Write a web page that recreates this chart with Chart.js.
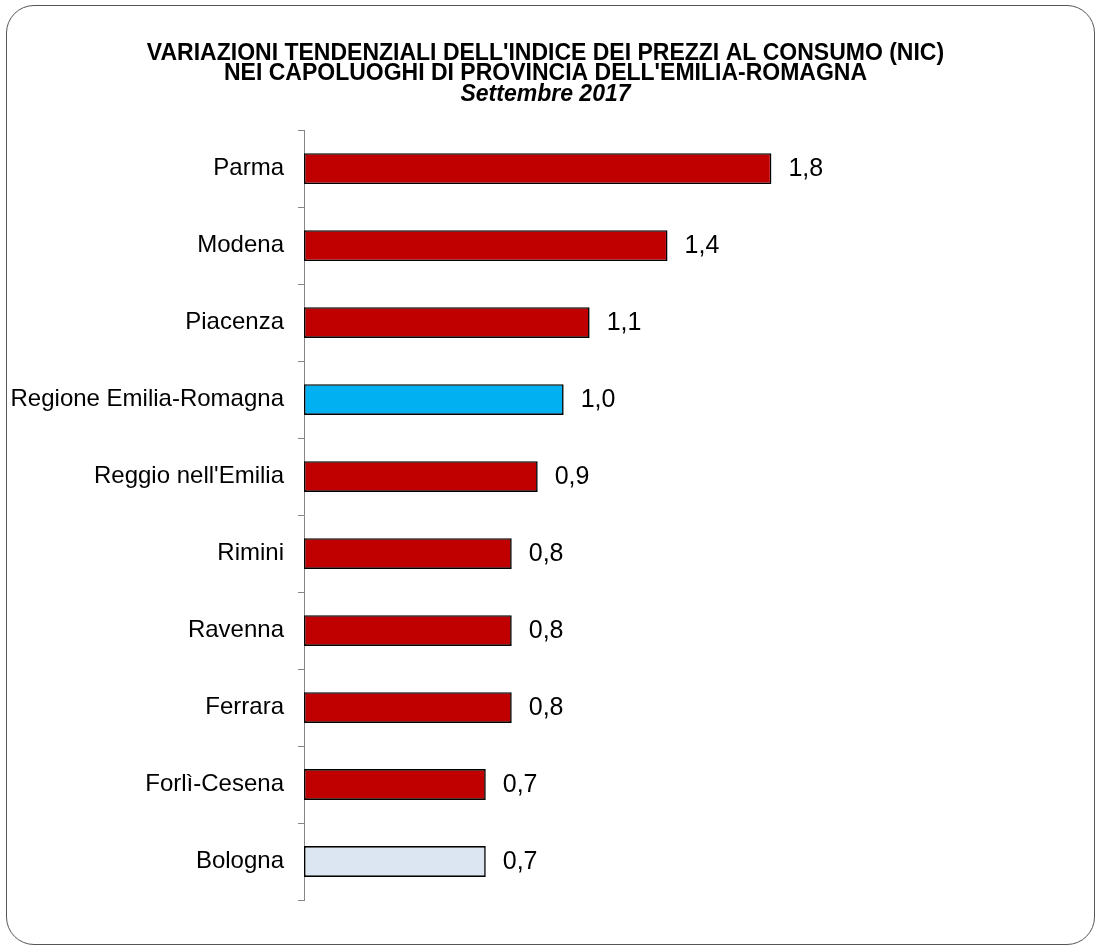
<!DOCTYPE html>
<html>
<head>
<meta charset="utf-8">
<script src="https://cdn.jsdelivr.net/npm/chart.js@4.4.1/dist/chart.umd.min.js"></script>
<style>
    html, body { margin: 0; padding: 0; background: #fff; }
    #wrap { position: relative; width: 1101px; height: 951px; }
    #frame {
        position: absolute; left: 6px; top: 5px; right: 6px; bottom: 6px;
        border: 1.5px solid #555; border-radius: 28px;
    }
    #chart { position: absolute; left: 0; top: 0; }
</style>
</head>
<body>
<div id="wrap">
    <div id="frame"></div>
    <canvas id="chart" width="1101" height="951"></canvas>
</div>
<script>
(function () {
    'use strict';

    var titleLines = [
        "VARIAZIONI TENDENZIALI DELL'INDICE DEI PREZZI AL CONSUMO (NIC)",
        "NEI CAPOLUOGHI DI PROVINCIA DELL'EMILIA-ROMAGNA"
    ];
    var subtitleText = 'Settembre 2017';

    var categories = [
        'Parma', 'Modena', 'Piacenza', 'Regione Emilia-Romagna', "Reggio nell'Emilia",
        'Rimini', 'Ravenna', 'Ferrara', 'Forlì-Cesena', 'Bologna'
    ];
    var values = [1.8, 1.4, 1.1, 1.0, 0.9, 0.8, 0.8, 0.8, 0.7, 0.7];

    var FONT = '"Liberation Sans", Arial, sans-serif';

    // region bar in blue, Bologna in pale blue, the rest in dark red
    function barColor(ctx) {
        var label = categories[ctx.dataIndex];
        if (label === 'Regione Emilia-Romagna') return '#00B0F0';
        if (label === 'Bologna') return '#DCE6F2';
        return '#C00000';
    }

    // =========================================================================
    // Value labels next to the bars
    // =========================================================================

    var valueLabels = {
        id: 'valueLabels',
        afterDatasetsDraw: function (chart) {
            var ctx = chart.ctx;
            var meta = chart.getDatasetMeta(0);
            ctx.save();
            ctx.font = '25px ' + FONT;
            ctx.fillStyle = '#000';
            ctx.textAlign = 'left';
            ctx.textBaseline = 'middle';
            meta.data.forEach(function (bar, i) {
                var txt = values[i].toFixed(1).replace('.', ',');
                ctx.fillText(txt, bar.x + 17, bar.y + 1);
            });
            ctx.restore();
        }
    };

    new Chart(document.getElementById('chart'), {
        type: 'bar',
        data: {
            labels: categories,
            datasets: [{
                data: values,
                backgroundColor: barColor,
                borderColor: '#000',
                borderWidth: 1.6,
                borderSkipped: false,
                categoryPercentage: 1.0,
                barPercentage: 0.4
            }]
        },
        options: {
            indexAxis: 'y',
            responsive: false,
            animation: false,
            devicePixelRatio: 1,
            layout: {
                padding: { left: 8, right: 18, top: 0, bottom: 51 }
            },
            plugins: {
                legend: { display: false },
                tooltip: { enabled: false },
                title: {
                    display: true,
                    text: titleLines,
                    color: '#000',
                    font: { family: FONT, size: 23, weight: 'bold', lineHeight: 0.9 },
                    padding: { top: 43, bottom: 0 }
                },
                subtitle: {
                    display: true,
                    text: subtitleText,
                    color: '#000',
                    font: { family: FONT, size: 23, weight: 'bold', style: 'italic', lineHeight: 0.9 },
                    padding: { top: 0, bottom: 25 }
                }
            },
            scales: {
                x: {
                    display: false,
                    min: 0,
                    max: 3
                },
                y: {
                    afterFit: function (scale) { scale.width = 296; },
                    grid: {
                        offset: true,
                        drawOnChartArea: false,
                        drawTicks: true,
                        tickLength: 6,
                        color: '#868686'
                    },
                    border: { display: true, color: '#868686', width: 1 },
                    ticks: {
                        color: '#000',
                        padding: 14,
                        font: { family: FONT, size: 24 }
                    }
                }
            }
        },
        plugins: [valueLabels]
    });
})();
</script>
</body>
</html>
